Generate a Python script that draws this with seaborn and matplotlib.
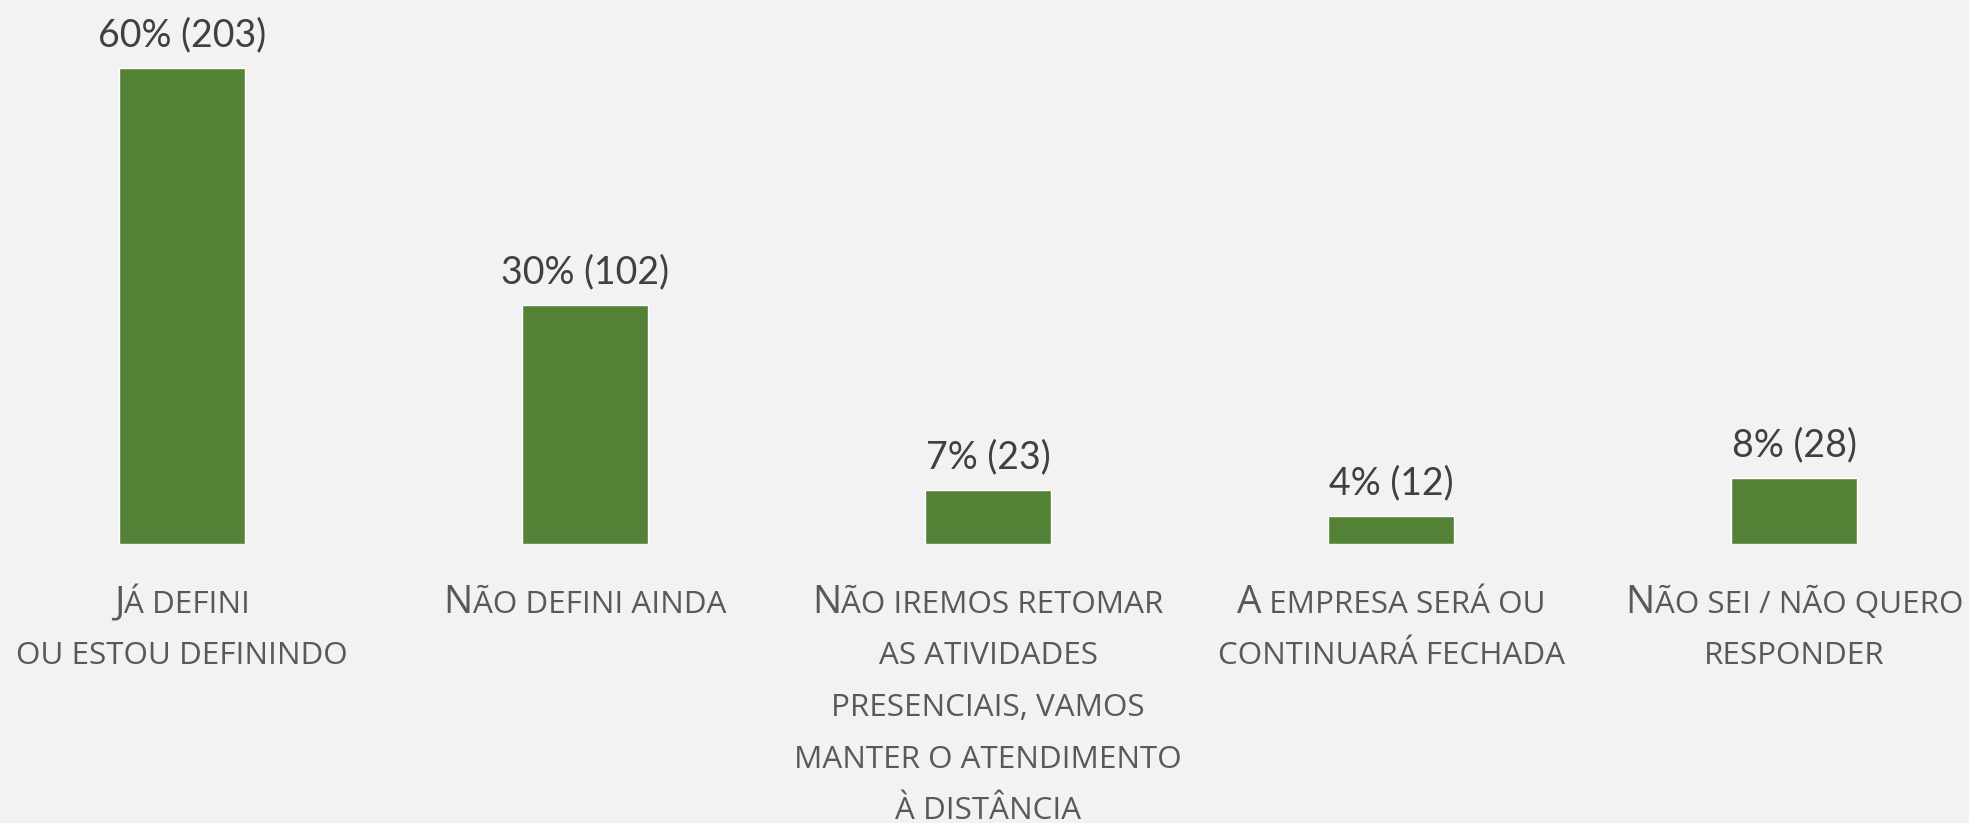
import matplotlib
matplotlib.use("Agg")
import matplotlib.pyplot as plt
import seaborn as sns
import pandas as pd

# ---- data ----
categories = ["Já defini ou estou definindo", "Não defini ainda",
              "Não iremos retomar as atividades presenciais, vamos manter o atendimento à distância",
              "A empresa será ou continuará fechada", "Não sei / não quero responder"]
counts = [203, 102, 23, 12, 28]
percents = [60, 30, 7, 4, 8]
label_lines = [
    ["Já defini", "ou estou definindo"],
    ["Não defini ainda"],
    ["Não iremos retomar", "as atividades", "presenciais, vamos", "manter o atendimento", "à distância"],
    ["A empresa será ou", "continuará fechada"],
    ["Não sei / não quero", "responder"],
]

BG = "#F2F2F2"
GREEN = "#538135"
sns.set_theme(style="white")
plt.rcParams['font.family'] = ['Open Sans', 'DejaVu Sans']

W, H, DPI = 1969, 823, 100
fig = plt.figure(figsize=(W / DPI, H / DPI), dpi=DPI, facecolor=BG)
base_px = 279
ax = fig.add_axes([0, base_px / H, 1, (H - base_px) / H])
ax.set_facecolor(BG)

df = pd.DataFrame({"cat": categories, "n": counts})
sns.barplot(data=df, x="cat", y="n", color=GREEN, saturation=1, width=0.3127, ax=ax)
ax.set_xlim(-0.4516, 4.434)
ax.set_ylim(0, (H - base_px) / 2.345)
ax.axis("off")

# value labels
for i, (n, p) in enumerate(zip(counts, percents)):
    ax.annotate(f"{p}% ({n})", xy=(i, n), xytext=(0, 33 * 0.72), textcoords="offset points",
                ha="center", va="center", fontsize=27, color="#404040", family=["Lato", "DejaVu Sans"])

# small-caps category labels
fig.canvas.draw()
renderer = fig.canvas.get_renderer()
from matplotlib.font_manager import FontProperties
BIG, SMALL = 28, 22.6
LBL = "#595959"

def runs(s):
    out = []
    for ch in s:
        big = ch.isupper()
        if out and out[-1][1] == big:
            out[-1][0] += ch
        else:
            out.append([ch, big])
    return [(t.upper(), b) for t, b in out]

def width_px(s, size):
    prop = FontProperties(family=['Open Sans', 'DejaVu Sans'], size=size)
    w1 = renderer.get_text_width_height_descent("x" + s + "x", prop, ismath=False)[0]
    w0 = renderer.get_text_width_height_descent("xx", prop, ismath=False)[0]
    return w1 - w0

pt = 72 / DPI
for i, lines in enumerate(label_lines):
    for k, line in enumerate(lines):
        rs = runs(line)
        widths = [width_px(t, BIG if b else SMALL) for t, b in rs]
        total = sum(widths)
        x = -total / 2
        y = -(69 + 51.5 * k)
        for (t, b), w in zip(rs, widths):
            ax.annotate(t, xy=(i, 0), xytext=(x * pt, y * pt), textcoords="offset points",
                        ha="left", va="baseline", fontsize=BIG if b else SMALL, color=LBL,
                        annotation_clip=False)
            x += w

fig.savefig("out.png", dpi=DPI, facecolor=BG)
